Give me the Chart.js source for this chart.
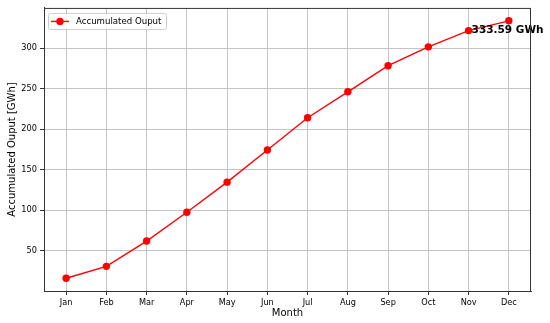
<!DOCTYPE html>
<html>
<head>
<meta charset="utf-8">
<script src="https://cdn.jsdelivr.net/npm/chart.js@4.4.1/dist/chart.umd.min.js"></script>
<style>
  html, body { margin: 0; padding: 0; background: #fff; }
  #wrap { width: 550px; height: 323px; }
</style>
</head>
<body>
<div id="wrap"><canvas id="chart" width="550" height="323"></canvas></div>
<script>
// data
const months = ['Jan', 'Feb', 'Mar', 'Apr', 'May', 'Jun', 'Jul', 'Aug', 'Sep', 'Oct', 'Nov', 'Dec'];
const accumulated = [16.0, 30.7, 61.9, 97.4, 134.6, 174.3, 214.0, 246.0, 278.2, 301.5, 321.5, 333.59];
const yTicks = [50, 100, 150, 200, 250, 300];
const seriesLabel = 'Accumulated Ouput';
const unit = 'GWh';

Chart.defaults.font.family = 'DejaVu Sans';
Chart.defaults.color = '#000';

const red = '#ff0000';

// box round the plot, like matplotlib spines
const framePlugin = {
    id: 'frame',
    afterDraw(chart) {
        const {ctx, chartArea: a} = chart;
        ctx.save();
        ctx.strokeStyle = '#333';
        ctx.lineWidth = 1;
        ctx.strokeRect(a.left + 0.5, a.top + 0.5, a.right - a.left - 1, a.bottom - a.top);
        ctx.restore();
    }
};

// total label next to the last points
const totalPlugin = {
    id: 'total',
    afterDatasetsDraw(chart) {
        const {ctx, scales} = chart;
        const i = accumulated.length - 2;
        const x = scales.x.getPixelForValue(i) + 3;
        const y = scales.y.getPixelForValue(accumulated[i]);
        ctx.save();
        ctx.font = 'bold 10.5px "DejaVu Sans"';
        ctx.fillStyle = '#000';
        ctx.textAlign = 'left';
        ctx.textBaseline = 'middle';
        ctx.fillText(accumulated[accumulated.length - 1].toFixed(2) + ' ' + unit, x, y);
        ctx.restore();
    }
};

// matplotlib style legend (line + marker inside a rounded box)
const legendPlugin = {
    id: 'mplLegend',
    afterDraw(chart) {
        const {ctx, chartArea: a} = chart;
        const ds = chart.data.datasets[0];
        const bx = a.left + 4, by = a.top + 5, bw = 118, bh = 16;
        ctx.save();
        ctx.beginPath();
        ctx.roundRect(bx + 0.5, by + 0.5, bw, bh, 2);
        ctx.fillStyle = 'rgba(255,255,255,0.8)';
        ctx.fill();
        ctx.strokeStyle = '#cccccc';
        ctx.lineWidth = 1;
        ctx.stroke();
        const cy = by + bh / 2 + 0.5;
        ctx.strokeStyle = ds.borderColor;
        ctx.lineWidth = ds.borderWidth;
        ctx.beginPath();
        ctx.moveTo(bx + 3, cy);
        ctx.lineTo(bx + 21, cy);
        ctx.stroke();
        ctx.fillStyle = ds.pointBackgroundColor;
        ctx.beginPath();
        ctx.arc(bx + 12, cy, ds.pointRadius, 0, Math.PI * 2);
        ctx.fill();
        ctx.fillStyle = '#000';
        ctx.font = '8.6px "DejaVu Sans"';
        ctx.textBaseline = 'middle';
        ctx.fillText(ds.label, bx + 28, cy);
        ctx.restore();
    }
};

const chart = new Chart(document.getElementById('chart'), {
    type: 'line',
    data: {
        datasets: [{
            label: seriesLabel,
            data: accumulated.map((v, i) => ({x: i, y: v})),
            borderColor: red,
            backgroundColor: red,
            pointBackgroundColor: red,
            pointBorderColor: red,
            borderWidth: 1.4,
            pointRadius: 3.7,
            pointBorderWidth: 0,
            tension: 0,
            clip: false
        }]
    },
    options: {
        responsive: false,
        animation: false,
        devicePixelRatio: 1,
        layout: { padding: { top: 6, right: 19, left: 0, bottom: 0 } },
        plugins: {
            legend: { display: false },
            tooltip: { enabled: false }
        },
        scales: {
            x: {
                type: 'linear',
                min: -0.55,
                max: months.length - 1 + 0.55,
                afterBuildTicks: s => { s.ticks = months.map((m, i) => ({value: i})); },
                afterFit: s => { s.height = 32; },
                ticks: {
                    callback: v => months[v],
                    autoSkip: false,
                    maxRotation: 0,
                    padding: 2.5,
                    font: { size: 8.2 }
                },
                grid: { color: '#c4c4c4', tickColor: '#333', tickLength: 4 },
                border: { display: true, color: '#333' },
                title: { display: true, text: 'Month', font: { size: 10 }, padding: { top: 0, bottom: 4 } }
            },
            y: {
                min: 0.3,
                max: 349.5,
                afterBuildTicks: s => { s.ticks = yTicks.map(v => ({value: v})); },
                afterFit: s => { s.width = 44; },
                ticks: { padding: 3, font: { size: 8.2 } },
                grid: { color: '#c4c4c4', tickColor: '#333', tickLength: 4 },
                border: { display: true, color: '#333' },
                title: { display: true, text: 'Accumulated Ouput [' + unit + ']', font: { size: 10 }, padding: { top: 6, bottom: 0 } }
            }
        }
    },
    plugins: [framePlugin, totalPlugin, legendPlugin]
});
</script>
</body>
</html>
